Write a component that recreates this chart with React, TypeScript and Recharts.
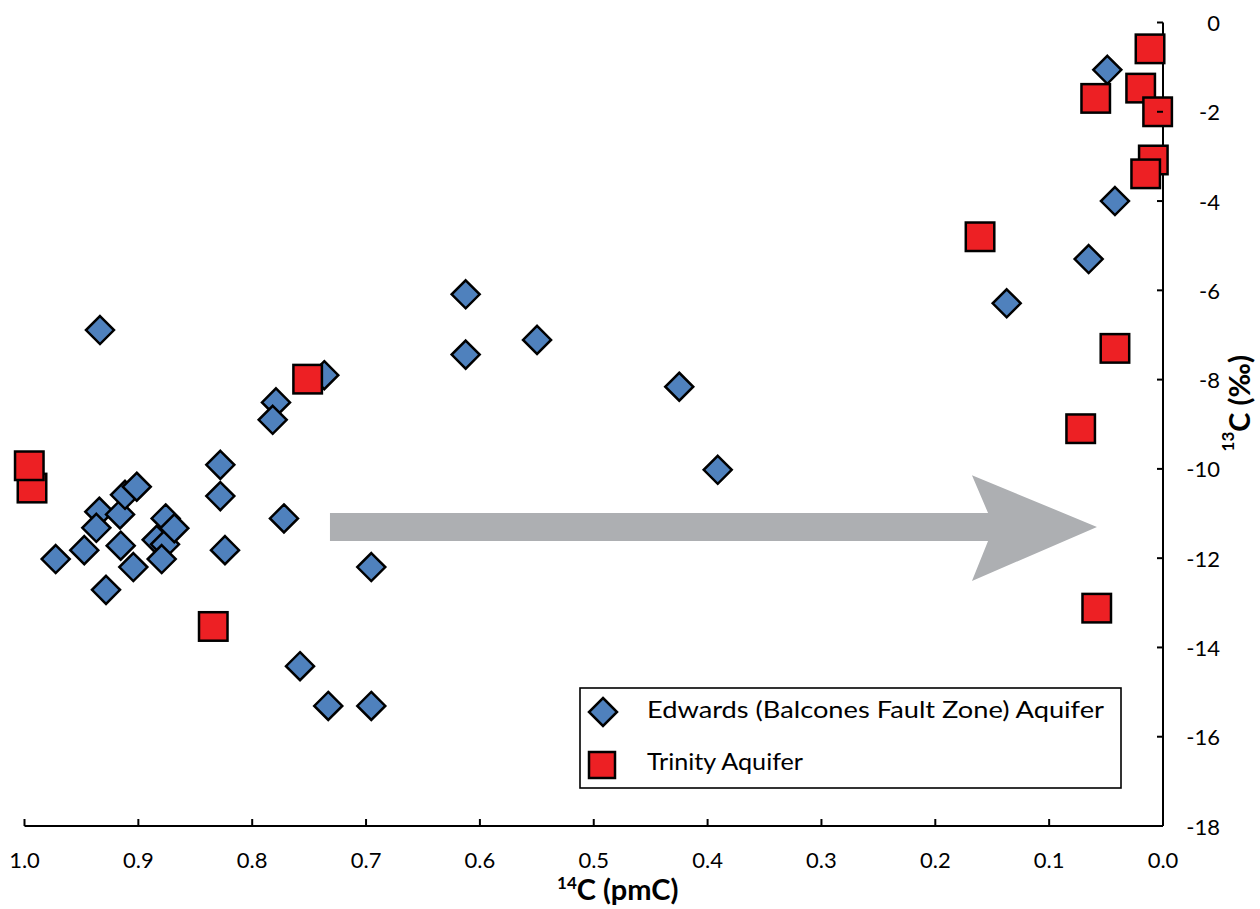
import React from 'react';
import { ScatterChart, Scatter, XAxis, YAxis, ReferenceArea, Legend, Label } from 'recharts';

// Edwards (Balcones Fault Zone) Aquifer
const edwardsX = [0.9726, 0.9475, 0.9284, 0.9343, 0.9369, 0.9161, 0.9117, 0.9014, 0.9155, 0.9044, 0.8839, 0.8766, 0.8760, 0.8684, 0.8795, 0.9337, 0.8280, 0.8280, 0.8239, 0.7791, 0.7820, 0.7367, 0.7721, 0.6954, 0.7580, 0.7332, 0.6954, 0.6125, 0.6125, 0.5498, 0.4249, 0.3911, 0.1373, 0.0653, 0.0422, 0.0489];
const edwardsY = [-12.02, -11.82, -12.71, -10.96, -11.32, -11.02, -10.58, -10.40, -11.72, -12.20, -11.59, -11.69, -11.11, -11.33, -12.02, -6.89, -9.91, -10.61, -11.82, -8.51, -8.90, -7.90, -11.11, -12.20, -14.42, -15.31, -15.31, -6.09, -7.44, -7.11, -8.16, -10.02, -6.29, -5.30, -4.00, -1.06];

// Trinity Aquifer
const trinityX = [0.9934, 0.9958, 0.8342, 0.7513, 0.1607, 0.0114, 0.0196, 0.0591, 0.0047, 0.0085, 0.0152, 0.0422, 0.0723, 0.0582];
const trinityY = [-10.43, -9.93, -13.53, -7.99, -4.80, -0.59, -1.47, -1.70, -2.00, -3.08, -3.39, -7.30, -9.10, -13.12];

const seriesNames = ['Edwards (Balcones Fault Zone) Aquifer', 'Trinity Aquifer'];
const xTicks = [1.0, 0.9, 0.8, 0.7, 0.6, 0.5, 0.4, 0.3, 0.2, 0.1, 0.0];
const yTicks = [0, -2, -4, -6, -8, -10, -12, -14, -16, -18];

// arrow annotation extent (data units)
const arrowX = [0.7317, 0.058];
const arrowY = [-10.14, -12.51];

const edwardsData = edwardsX.map((x, i) => ({ x, y: edwardsY[i] }));
const trinityData = trinityX.map((x, i) => ({ x, y: trinityY[i] }));

const FONT = 'Lato, "Open Sans", sans-serif';
const BLUE = '#4f81bd';
const RED = '#ed2024';

const Diamond = (props: any) => {
  const { cx, cy } = props;
  const r = 14;
  return (
    <polygon
      points={`${cx},${cy - r} ${cx + r},${cy} ${cx},${cy + r} ${cx - r},${cy}`}
      fill={BLUE}
      stroke="#000"
      strokeWidth={2.5}
    />
  );
};

const Square = (props: any) => {
  const { cx, cy } = props;
  const s = 28.5;
  return <rect x={cx - s / 2} y={cy - s / 2} width={s} height={s} fill={RED} stroke="#000" strokeWidth={2.5} />;
};

const Arrow = (props: any) => {
  const { x, y, width, height } = props;
  const st = y + height * 0.358;
  const sb = y + height * 0.623;
  const mid = y + height * 0.49;
  const hb = x + width * 0.837;
  const hn = x + width * 0.858;
  const pts = [
    [x, st], [hn, st], [hb, y], [x + width, mid], [hb, y + height], [hn, sb], [x, sb],
  ].map((p) => p.join(',')).join(' ');
  return <polygon points={pts} fill="#adafb2" stroke="none" />;
};

const XTick = (props: any) => {
  const { x, y, payload } = props;
  return (
    <g>
      <line x1={x} x2={x} y1={y} y2={y - 7} stroke="#000" strokeWidth={2} />
      <text x={x} y={y + 33} textAnchor="middle" dominantBaseline="central" fontFamily={FONT} fontSize={22} fill="#000">
        {Number(payload.value).toFixed(1)}
      </text>
    </g>
  );
};

const YTick = (props: any) => {
  const { x, y, payload } = props;
  return (
    <g>
      <line x1={x} x2={x - 6} y1={y} y2={y} stroke="#000" strokeWidth={2} />
      <text x={x + 57} y={y} textAnchor="end" dominantBaseline="central" fontFamily={FONT} fontSize={22} fill="#000">
        {String(payload.value)}
      </text>
    </g>
  );
};

const XTitle = (props: any) => {
  const vb = props.viewBox || { x: 24.5, y: 826, width: 1138.5, height: 83 };
  return (
    <text x={vb.x + vb.width / 2 + 24} y={vb.y + 74} textAnchor="middle" fontFamily={FONT} fontWeight={700} fontSize={29} fill="#000">
      <tspan fontSize={17} dy={-11}>14</tspan>
      <tspan dy={11}>C (pmC)</tspan>
    </text>
  );
};

const YTitle = (props: any) => {
  const vb = props.viewBox || { x: 1163, y: 22.5, width: 97, height: 803.5 };
  const cx = vb.x + 75;
  const cy = vb.y + vb.height / 2 - 21;
  return (
    <text
      x={cx}
      y={cy}
      transform={`rotate(-90, ${cx}, ${cy})`}
      textAnchor="middle"
      dominantBaseline="central"
      fontFamily={FONT}
      fontWeight={700}
      fontSize={29}
      fill="#000"
    >
      <tspan fontSize={17} dy={-11}>13</tspan>
      <tspan dy={11}>C (‰)</tspan>
    </text>
  );
};

const LegendBox = (props: any) => {
  const payload = props.payload || [];
  const n0 = payload[0]?.value ?? seriesNames[0];
  const n1 = payload[1]?.value ?? seriesNames[1];
  const r = 14;
  const s = 26;
  return (
    <svg width={545} height={104} style={{ display: 'block', overflow: 'visible' }}>
      <rect x={1} y={1} width={541} height={100} fill="#fff" stroke="#000" strokeWidth={1.6} />
      <polygon
        points={`24,${25 - r} ${24 + r},25 24,${25 + r} ${24 - r},25`}
        fill={BLUE}
        stroke="#000"
        strokeWidth={2.5}
      />
      <text x={68} y={31} fontFamily={FONT} fontSize={24} textLength={457} lengthAdjust="spacingAndGlyphs" fill="#000">{n0}</text>
      <rect x={23 - s / 2} y={78 - s / 2} width={s} height={s} fill={RED} stroke="#000" strokeWidth={2.5} />
      <text x={68} y={83} fontFamily={FONT} fontSize={24} textLength={156} lengthAdjust="spacingAndGlyphs" fill="#000">{n1}</text>
    </svg>
  );
};

export default function App() {
  return (
    <div style={{ position: 'absolute', left: 0, top: 0, width: 1260, height: 909, background: '#fff', fontFamily: FONT }}>
      <ScatterChart width={1260} height={909} margin={{ top: 22.5, left: 24.5, right: 0, bottom: 0 }}>
        <XAxis
          type="number"
          dataKey="x"
          domain={[0, 1]}
          reversed
          ticks={xTicks}
          interval={0}
          height={83}
          tickSize={0}
          tickMargin={0}
          tickLine={false}
          axisLine={{ stroke: '#000', strokeWidth: 2 }}
          tick={<XTick />}
        >
          <Label content={<XTitle />} />
        </XAxis>
        <YAxis
          type="number"
          dataKey="y"
          orientation="right"
          domain={[-18, 0]}
          ticks={yTicks}
          interval={0}
          width={97}
          tickSize={0}
          tickMargin={0}
          tickLine={false}
          axisLine={{ stroke: '#000', strokeWidth: 2 }}
          tick={<YTick />}
        >
          <Label content={<YTitle />} />
        </YAxis>
        <ReferenceArea x1={arrowX[0]} x2={arrowX[1]} y1={arrowY[0]} y2={arrowY[1]} shape={<Arrow />} ifOverflow="visible" />
        <Scatter name={seriesNames[0]} data={edwardsData} shape={<Diamond />} fill={BLUE} isAnimationActive={false} />
        <Scatter name={seriesNames[1]} data={trinityData} shape={<Square />} fill={RED} isAnimationActive={false} />
        <Legend
          layout="vertical"
          align="center"
          verticalAlign="middle"
          content={<LegendBox />}
          wrapperStyle={{ position: 'absolute', left: 579, top: 687, width: 545, height: 104, margin: 0 }}
        />
      </ScatterChart>
    </div>
  );
}
